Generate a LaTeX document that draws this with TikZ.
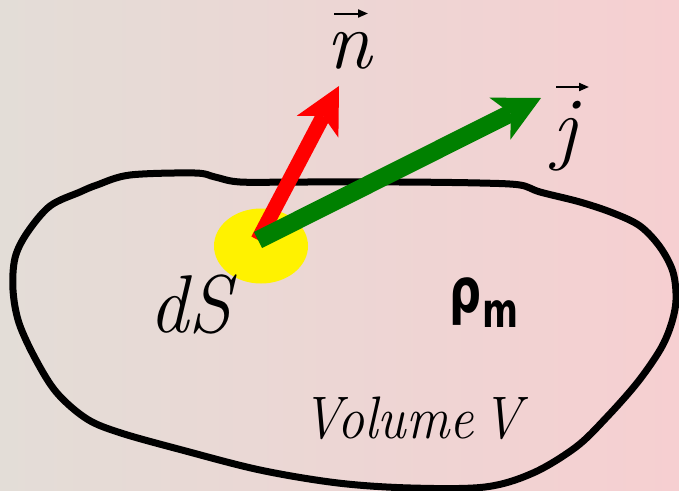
\documentclass[tikz,border=0pt]{standalone}
\usepackage{fontspec}
\usepackage{graphicx}
\newfontfamily\dejavu{DejaVu Sans}
\usetikzlibrary{arrows.meta,calc,shapes.geometric}
\definecolor{bgL}{RGB}{227,221,215}
\definecolor{bgR}{RGB}{246,207,209}
\definecolor{arrgreen}{RGB}{0,128,0}
\begin{document}
\begin{tikzpicture}[x=1pt,y=-1pt,
  txt/.style={inner sep=0pt, anchor=base},
  bigit/.style={font=\fontsize{82}{82}\selectfont\itshape},
  vecarr/.style={line width=2pt,-{Triangle[length=10pt,width=8pt]}},
  outline/.style={line width=7pt, line join=round},
  fatarrow/.style={line width=#1,-{Stealth[length=46pt,width=47pt,inset=12pt,line width=0pt]}}
]
\useasboundingbox (0,0) rectangle (679,490);
\fill[left color=bgL, right color=bgR] (0,0) rectangle (679,490);

% volume outline
\draw[outline] plot[smooth cycle, tension=0.55] coordinates {
 (97,185) (130,175) (195,173) (215,177) (240,182) (300,182) (400,182) (480,183)
 (520,185) (540,192) (580,202) (613,213) (640,226) (660,247) (673,272)
 (676,300) (671,325) (660,350) (637,383) (606,418) (576,447) (533,473)
 (485,487) (411,488) (338,483) (260,470) (182,450) (121,433) (87,419)
 (57,393) (36,360) (19,323) (13,290) (15,258) (27,233) (50,206) (80,192)};

% surface element
\node[fill=yellow, ellipse, minimum width=94pt, minimum height=75pt, inner sep=0pt] (el) at (261,246) {};

\coordinate (base) at (258,240);
\coordinate (ntip) at (339,86);
\coordinate (jtip) at (541,98);
\draw[fatarrow=15pt, red] (base) -- (ntip);
\draw[fatarrow=18pt, arrgreen] (base) -- (jtip);

% labels
\node[txt, bigit] (nlab) at (349,68) {n};
\coordinate (na) at (334,13.5);
\coordinate (nb) at (368,13.5);
\draw[vecarr] (na) -- (nb);

\node[txt, bigit] (jlab) at (565,154) {j};
\coordinate (ja) at (556,87);
\coordinate (jb) at (589,87);
\draw[vecarr] (ja) -- (jb);

\node[txt, bigit] (ds) at (190,332) {\scalebox{0.95}[1]{dS}};
\node[txt, font=\fontsize{60}{60}\selectfont\itshape] (vol) at (412,438) {\scalebox{0.9}[1]{Volume\hspace{10pt}V}};
\node[txt] (rho) at (484,312) {\scalebox{0.72}[1]{\dejavu\bfseries\fontsize{62}{62}\selectfont ρ\hspace{2pt}\raisebox{-15pt}{\fontsize{48}{48}\selectfont m}}};
\end{tikzpicture}
\end{document}
